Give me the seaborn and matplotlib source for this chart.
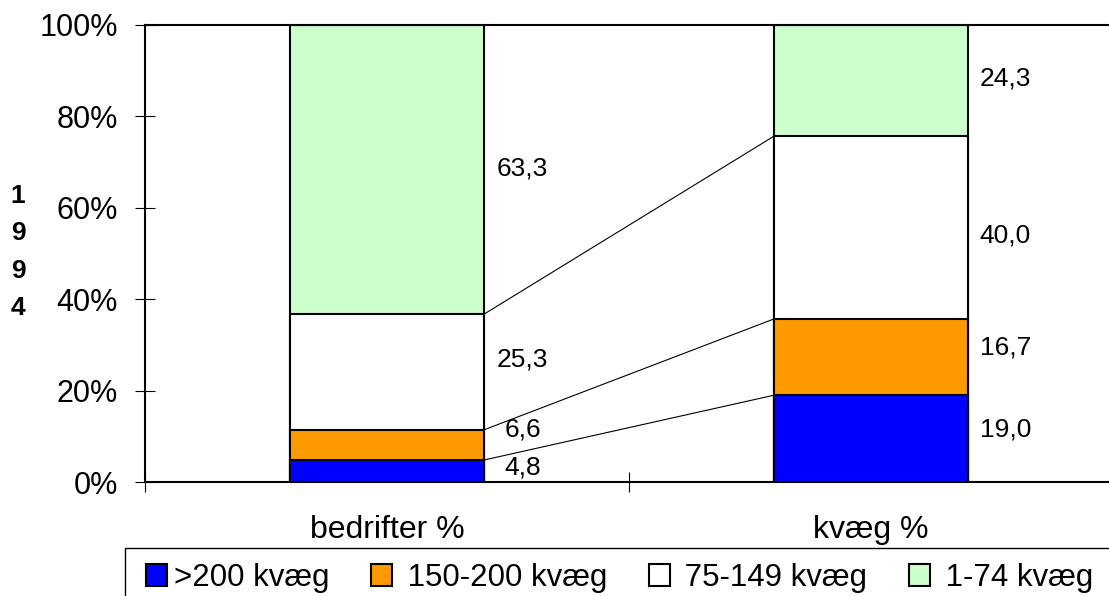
import numpy as np
import pandas as pd
import matplotlib
matplotlib.use("Agg")
import matplotlib.pyplot as plt
import seaborn as sns
from matplotlib.patches import Patch, Rectangle
from matplotlib.ticker import FuncFormatter

# Data (andele i %)
kategorier = ["bedrifter %", "kvæg %"]
grupper = [">200 kvæg", "150-200 kvæg", "75-149 kvæg", "1-74 kvæg"]
farver = ["#0000FF", "#FF9900", "#FFFFFF", "#CCFFCC"]
bedrifter = [4.8, 6.6, 25.3, 63.3]
kvaeg = [19.0, 16.7, 40.0, 24.3]
etiketter_bedrifter = ["4,8", "6,6", "25,3", "63,3"]
etiketter_kvaeg = ["19,0", "16,7", "40,0", "24,3"]
# hvor etiketterne står (y i %)
etiket_y_bedrifter = [3.1, 11.4, 26.9, 68.7]
etiket_y_kvaeg = [11.4, 29.5, 54.0, 88.4]

sns.set_theme(style="white")
plt.rcParams["font.family"] = ["Liberation Sans", "DejaVu Sans"]
plt.rcParams["text.color"] = "black"
plt.rcParams["xtick.color"] = "black"
plt.rcParams["ytick.color"] = "black"

fig = plt.figure(figsize=(11.09, 5.96), dpi=100)
ax = fig.add_axes([145 / 1109, 114 / 596, 968 / 1109, 457 / 596])

kum_bed = np.cumsum(bedrifter)
kum_kvg = np.cumsum(kvaeg)

# stablede søjler: tegn kumulerede værdier fra øverst og ned
for i in reversed(range(len(grupper))):
    df = pd.DataFrame({"kategori": kategorier, "andel": [kum_bed[i], kum_kvg[i]]})
    sns.barplot(data=df, x="kategori", y="andel", color=farver[i], saturation=1,
                edgecolor="black", linewidth=1.5, width=0.4, errorbar=None, ax=ax)

# serielinjer mellem søjlerne
for i in range(len(grupper) - 1):
    ax.plot([0.2, 0.8], [kum_bed[i], kum_kvg[i]], color="black", lw=0.8, zorder=1)

for lab, y in zip(etiketter_bedrifter, etiket_y_bedrifter):
    ax.annotate(lab, (0.2, y), xytext=(28, 0), textcoords="offset points",
                ha="center", va="center", fontsize=19, color="black")
for lab, y in zip(etiketter_kvaeg, etiket_y_kvaeg):
    ax.annotate(lab, (1.2, y), xytext=(27, 0), textcoords="offset points",
                ha="center", va="center", fontsize=19, color="black")

ax.set_xlim(-0.5, 1.5)
ax.set_ylim(0, 100)
ax.set_yticks([0, 20, 40, 60, 80, 100])
ax.yaxis.set_major_formatter(FuncFormatter(lambda v, p: f"{v:.0f}%"))
ax.set_xticks([-0.5, 0.5], minor=False)
ax.set_xticks([0, 1], minor=True)
ax.set_xticklabels(["", ""])
ax.set_xticklabels(kategorier, minor=True)
ax.tick_params(axis="x", which="minor", length=0, pad=24, labelsize=23)
ax.tick_params(axis="x", which="major", direction="inout", length=15, width=0.8, color="black")
ax.tick_params(axis="y", direction="inout", length=15, width=0.8, color="black",
               pad=12, labelsize=22)
ax.tick_params(left=True, bottom=True)
ax.set_xlabel("")
ax.set_ylabel("")
for s in ["left", "bottom", "top"]:
    ax.spines[s].set_color("black")
    ax.spines[s].set_linewidth(1.5)
ax.spines["right"].set_visible(False)

fig.text(18 / 1109, 1 - 252 / 596, "1\n9\n9\n4", fontsize=19, fontweight="bold",
         ha="center", va="center", linespacing=1.69)

# forklaringsboks
fig.patches.append(Rectangle((125 / 1109, -0.05), 1.0, 0.05 + 48 / 596,
                             transform=fig.transFigure, facecolor="none",
                             edgecolor="black", linewidth=1.0))
handles = [Patch(facecolor=c, edgecolor="black", linewidth=1.5) for c in farver]
legend_tekster = [grupper[0]] + [" " + g for g in grupper[1:]]
leg = fig.legend(handles, legend_tekster, loc="center left", bbox_to_anchor=(146 / 1109, 1 - 578 / 596),
                 ncol=4, fontsize=22.5, handlelength=0.67, handleheight=0.67,
                 handletextpad=0.22, columnspacing=1.33, borderpad=0,
                 frameon=False, borderaxespad=0)

fig.savefig("out.png", dpi=100, facecolor="white")
